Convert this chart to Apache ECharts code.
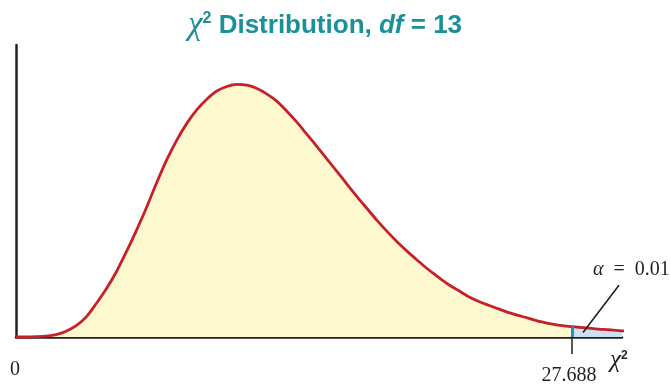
<!DOCTYPE html>
<html>
<head>
<meta charset="utf-8">
<script src="https://cdn.jsdelivr.net/npm/echarts@6/dist/echarts.min.js"></script>
<style>
  html, body { margin: 0; padding: 0; background: #fff; }
  #main { width: 670px; height: 386px; }
</style>
</head>
<body>
<div id="main"></div>
<script>
// chi-square values and the density
var chiValues = [0, 0.5, 1, 1.5, 2, 2.5, 3, 3.5, 4, 4.5, 5, 5.5, 6, 6.5, 7, 7.5, 8, 8.5, 9, 9.5,
  10, 10.5, 11, 11.5, 12, 12.5, 13, 13.5, 14, 14.5, 15, 15.5, 16, 16.5, 17, 17.5, 18, 18.5,
  19, 19.5, 20, 20.5, 21, 21.5, 22, 22.5, 23, 23.5, 24, 24.5, 25, 25.5, 26, 26.5, 27, 27.5,
  28, 28.5, 29, 29.5, 30, 30.35];
var density = [0, 0, 0.0001, 0.0003, 0.0008, 0.0019, 0.0037, 0.0066, 0.0110, 0.0158, 0.0214,
  0.0280, 0.0350, 0.0425, 0.0505, 0.0580, 0.0645, 0.0700, 0.0745, 0.0780, 0.0807, 0.0822,
  0.0829, 0.0826, 0.0815, 0.0797, 0.0773, 0.0740, 0.0704, 0.0664, 0.0624, 0.0583, 0.0542,
  0.0500, 0.0459, 0.0420, 0.0381, 0.0345, 0.0311, 0.0280, 0.0251, 0.0223, 0.0198, 0.0174,
  0.0154, 0.0134, 0.0118, 0.0105, 0.0093, 0.0081, 0.0071, 0.0062, 0.0052, 0.0045, 0.0039,
  0.0035, 0.0032, 0.0029, 0.0026, 0.0024, 0.0021, 0.0020];

// right tail beyond the critical value
var critical = 27.688;
var tailValues = [27.688, 28, 28.5, 29, 29.5, 30, 30.35];
var tailDensity = [0.0034, 0.0032, 0.0029, 0.0026, 0.0024, 0.0021, 0.0020];

var tickLabels = [0, critical];
var alphaText = '0.01';
var alphaLeader = [[28.24, 0.0015], [30.03, 0.0170]];
var alphaLabelAt = [30.0, 0.0228];

var ink = '#231f20';
var teal = '#1a9099';

function pairs(xs, ys) {
  return xs.map(function (x, i) { return [x, ys[i]]; });
}

var chart = echarts.init(document.getElementById('main'));
var option = {
  animation: false,
  title: {
    text: '{c|χ}{s|2}{t| Distribution, }{i|df}{t| = 13}',
    left: 183,
    top: 4,
    textStyle: {
      rich: {
        c: { fontFamily: 'Liberation Serif', fontStyle: 'italic', fontWeight: 'normal', fontSize: 33, color: teal },
        s: { fontFamily: 'Liberation Sans', fontWeight: 'bold', fontSize: 16, color: teal, padding: [0, 0, 14, 0] },
        t: { fontFamily: 'Liberation Sans', fontWeight: 'bold', fontSize: 26, color: teal },
        i: { fontFamily: 'Liberation Sans', fontWeight: 'bold', fontStyle: 'italic', fontSize: 26, color: teal }
      }
    }
  },
  grid: { left: 16, right: 48, top: 45, bottom: 44 },
  xAxis: {
    type: 'value',
    min: 0,
    max: 30.18,
    splitLine: { show: false },
    axisLine: { lineStyle: { color: ink, width: 2.5 } },
    axisTick: {
      show: true,
      customValues: [critical],
      length: 17,
      lineStyle: { color: ink, width: 1.5 }
    },
    axisLabel: {
      customValues: tickLabels,
      margin: 23,
      formatter: function (v) {
        return v === 0 ? '{z|0}' : '{k|' + v.toFixed(3) + '}';
      },
      rich: {
        z: { fontFamily: 'Liberation Serif', fontSize: 20, color: ink, padding: [0, 2, 0, 0] },
        k: { fontFamily: 'Liberation Serif', fontSize: 20, color: ink, padding: [6, 6, 0, 0] }
      }
    },
    name: '{c|χ}{s|2}',
    nameLocation: 'end',
    nameGap: -12,
    nameTextStyle: {
      verticalAlign: 'top',
      padding: [11, 0, 0, 0],
      rich: {
        c: { fontFamily: 'Liberation Serif', fontStyle: 'italic', fontSize: 25, color: ink },
        s: { fontFamily: 'Liberation Sans', fontWeight: 'bold', fontSize: 12, color: ink, padding: [0, 0, 10, 0] }
      }
    }
  },
  yAxis: {
    type: 'value',
    min: 0,
    max: 0.0958,
    splitLine: { show: false },
    axisTick: { show: false },
    axisLabel: { show: false },
    axisLine: { show: true, lineStyle: { color: ink, width: 2.5 } }
  },
  series: [
    {
      type: 'line',
      data: pairs(chiValues, density),
      smooth: 0.3,
      symbol: 'none',
      lineStyle: { width: 0 },
      areaStyle: { color: '#fff9cf', opacity: 1 }
    },
    {
      type: 'line',
      data: pairs(tailValues, tailDensity),
      smooth: 0.3,
      symbol: 'none',
      lineStyle: { width: 0 },
      areaStyle: { color: '#cddff3', opacity: 1 },
      markLine: {
        silent: true,
        symbol: 'none',
        label: { show: false },
        lineStyle: { color: '#1f8fd8', width: 3, type: 'solid' },
        data: [[{ coord: [critical, 0] }, { coord: [critical, tailDensity[0]] }]]
      }
    },
    {
      type: 'line',
      data: pairs(chiValues, density),
      smooth: 0.3,
      symbol: 'none',
      clip: false,
      lineStyle: { color: '#c8202a', width: 2.8 },
      markLine: {
        silent: true,
        symbol: 'none',
        label: { show: false },
        lineStyle: { color: ink, width: 1.6, type: 'solid' },
        data: [[{ coord: alphaLeader[0] }, { coord: alphaLeader[1] }]]
      },
      markPoint: {
        silent: true,
        symbol: 'rect',
        symbolSize: 2,
        itemStyle: { color: 'rgba(0,0,0,0)' },
        data: [{ coord: alphaLabelAt }],
        label: {
          show: true,
          position: 'inside',
          offset: [13, 2],
          formatter: '{a|α}  =  ' + alphaText,
          fontFamily: 'Liberation Serif',
          fontSize: 20,
          color: ink,
          rich: {
            a: { fontFamily: 'Liberation Serif', fontStyle: 'italic', fontSize: 20, color: ink }
          }
        }
      }
    }
  ]
};
chart.setOption(option);
</script>
</body>
</html>
